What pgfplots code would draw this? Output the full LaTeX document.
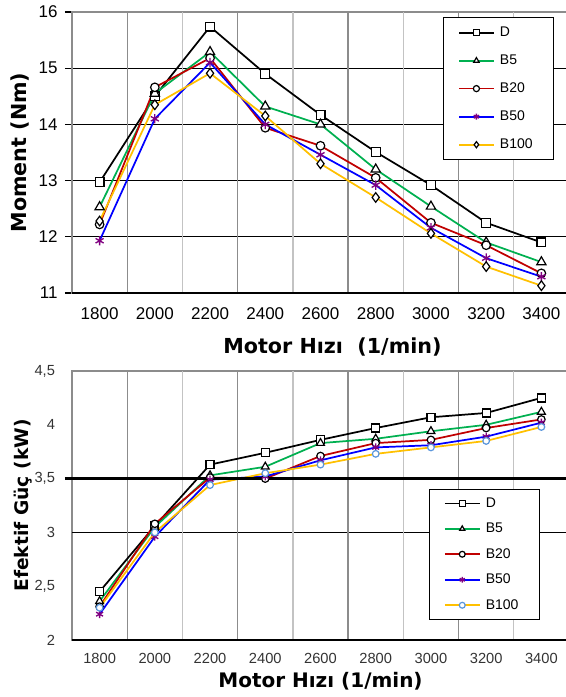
\documentclass[border=0pt]{standalone}
\usepackage{pgfplots}
\pgfplotsset{compat=1.18}
\usepackage{fontspec}
\setmainfont{Liberation Sans}
\newfontfamily\vfont{DejaVu Sans}

\definecolor{cB5}{RGB}{0,176,80}
\definecolor{cB20}{RGB}{192,0,0}
\definecolor{cB50}{RGB}{0,0,255}
\definecolor{cB100}{RGB}{255,192,0}
\definecolor{cStar}{RGB}{128,0,128}
\definecolor{cLb}{RGB}{90,150,220}
\definecolor{gdark}{RGB}{140,140,140}
\definecolor{glight}{RGB}{195,195,195}

\newcommand{\lent}[1]{\makebox[29pt][l]{\hspace{2pt}#1}}

\pgfplotsset{
  base/.style={
    scale only axis, width=372.75pt,
    xmin=1700, xmax=3500,
    xtick={1800,2000,...,3400},
    x tick style={draw=none},
    axis line style={gdark, line width=1.4pt},
    tick align=outside, major tick length=5.25pt,
    /pgf/number format/assume math mode=true,
    legend cell align=left,
    legend image code/.code={\draw[mark repeat=2,mark phase=2,##1]
      plot coordinates {(0pt,0pt) (13pt,0pt) (26pt,0pt)};},
    clip=false,
    every axis plot/.append style={line width=1.3pt},
  },
  sD/.style={black, mark=square*, mark size=3.3pt, mark options={fill=white, draw=black, line width=0.9pt}},
  sB5/.style={cB5, mark=triangle*, mark size=4pt, mark options={fill=white, draw=black, line width=0.9pt}},
  sB20/.style={cB20, mark=*, mark size=3.2pt, mark options={fill=white, draw=black, line width=0.9pt}},
  sB50/.style={cB50, mark=asterisk, mark size=3.5pt, mark options={draw=cStar, line width=1pt}},
}

\begin{document}
\begin{tikzpicture}
\path[use as bounding box] (-54pt,-303pt) rectangle (369.75pt,219.75pt);

% upper chart: torque
\begin{axis}[base,
  at={(0,0)}, anchor=south west,
  height=210.75pt,
  ymin=11, ymax=16, ytick={11,12,...,16},
  /pgf/number format/1000 sep={},
  ymajorgrids, major grid style={black, line width=0.8pt},
  y tick style={black, line width=0.8pt},
  ticklabel style={font=\fontsize{12.75}{14}\selectfont},
  xticklabel style={yshift=-2pt},
  yticklabel style={xshift=-2pt},
  xlabel={\vfont\bfseries\fontsize{15.5}{17}\selectfont Motor Hızı\ \ (1/min)},
  xlabel style={at={(axis description cs:0.524,-0.192)}, anchor=center},
  ylabel={\vfont\bfseries\fontsize{15.5}{17}\selectfont Moment (Nm)},
  ylabel style={at={(axis description cs:-0.1046,0.5)}, anchor=center, rotate=0},
  legend style={at={(0.7465,0.982)}, anchor=north west, draw=black, line width=0.8pt,
    font=\fontsize{10.5}{12}\selectfont, row sep=8.2pt, inner xsep=11pt, inner ysep=5pt},
  every legend image post/.style={mark size=2.3pt},
]
\pgfplotsinvokeforeach{1900,2300,2700,3100}{\draw[gdark, line width=1pt] (axis cs:#1,11) -- (axis cs:#1,16);}
\pgfplotsinvokeforeach{2100,2500,2900,3300}{\draw[glight, line width=1pt] (axis cs:#1,11) -- (axis cs:#1,16);}
\addplot[sD] coordinates {(1800,12.97)(2000,14.50)(2200,15.74)(2400,14.90)(2600,14.17)(2800,13.51)(3000,12.92)(3200,12.25)(3400,11.90)};
\addlegendentry{\lent{D}}
\addplot[sB5] coordinates {(1800,12.53)(2000,14.55)(2200,15.29)(2400,14.32)(2600,14.00)(2800,13.20)(3000,12.54)(3200,11.90)(3400,11.55)};
\addlegendentry{\lent{B5}}
\addplot[sB20] coordinates {(1800,12.22)(2000,14.66)(2200,15.18)(2400,13.94)(2600,13.62)(2800,13.05)(3000,12.25)(3200,11.85)(3400,11.35)};
\addlegendentry{\lent{B20}}
\addplot[sB50] coordinates {(1800,11.93)(2000,14.10)(2200,15.10)(2400,14.00)(2600,13.46)(2800,12.92)(3000,12.16)(3200,11.62)(3400,11.29)};
\addlegendentry{\lent{B50}}
\addplot[cB100, mark=diamond*, mark size=3.6pt, mark options={fill=white, draw=black, line width=0.9pt}]
  coordinates {(1800,12.28)(2000,14.35)(2200,14.91)(2400,14.15)(2600,13.30)(2800,12.70)(3000,12.06)(3200,11.47)(3400,11.13)};
\addlegendentry{\lent{B100}}
\draw[black, line width=1.6pt] (axis cs:1700,11) -- (axis cs:3500,11);
\end{axis}

% lower chart: effective power
\begin{axis}[base,
  at={(0,-58.5pt)}, anchor=north west,
  height=201.75pt,
  ymin=2, ymax=4.5, ytick={2,2.5,...,4.5},
  /pgf/number format/use comma,
  /pgf/number format/1000 sep={},
  y tick style={draw=none},
  extra y ticks={2,3,3.5}, extra y tick labels={},
  extra y tick style={grid=major, major grid style={black, line width=0.8pt}, tick style={draw=black, line width=0.8pt}},
  ticklabel style={font=\fontsize{11}{13}\selectfont, text=black!80},
  xticklabel style={yshift=-1pt},
  yticklabel style={xshift=-4pt},
  xlabel={\vfont\bfseries\fontsize{15}{17}\selectfont Motor Hızı (1/min)},
  xlabel style={at={(axis description cs:0.5,-0.155)}, anchor=center},
  ylabel={\vfont\bfseries\fontsize{14}{16}\selectfont Efektif Güç (kW)},
  ylabel style={at={(axis description cs:-0.0986,0.5)}, anchor=center, rotate=0},
  legend style={at={(0.718,0.561)}, anchor=north west, draw=black, line width=0.8pt,
    font=\fontsize{10.5}{12}\selectfont, row sep=6.3pt, inner xsep=11pt, inner ysep=4pt},
  every legend image post/.style={mark size=2.2pt},
]
\pgfplotsinvokeforeach{1900,2300,2700,3100}{\draw[gdark, line width=1pt] (axis cs:#1,2) -- (axis cs:#1,4.5);}
\pgfplotsinvokeforeach{2100,2500,2900,3300}{\draw[glight, line width=1pt] (axis cs:#1,2) -- (axis cs:#1,4.5);}
\addplot[sD, mark size=3pt] coordinates {(1800,2.45)(2000,3.06)(2200,3.63)(2400,3.74)(2600,3.86)(2800,3.97)(3000,4.07)(3200,4.11)(3400,4.25)};
\addlegendentry{\lent{D}}
\addplot[sB5, mark size=3.4pt] coordinates {(1800,2.36)(2000,3.05)(2200,3.53)(2400,3.61)(2600,3.83)(2800,3.87)(3000,3.94)(3200,4.00)(3400,4.12)};
\addlegendentry{\lent{B5}}
\addplot[sB20, mark size=2.8pt] coordinates {(1800,2.31)(2000,3.08)(2200,3.51)(2400,3.50)(2600,3.71)(2800,3.83)(3000,3.86)(3200,3.97)(3400,4.05)};
\addlegendentry{\lent{B20}}
\addplot[sB50, mark size=3pt] coordinates {(1800,2.24)(2000,2.96)(2200,3.49)(2400,3.52)(2600,3.67)(2800,3.79)(3000,3.81)(3200,3.89)(3400,4.02)};
\addlegendentry{\lent{B50}}
\addplot[cB100, mark=*, mark size=2.5pt, mark options={fill=white, draw=cLb, line width=0.9pt}]
  coordinates {(1800,2.30)(2000,3.00)(2200,3.44)(2400,3.55)(2600,3.63)(2800,3.73)(3000,3.79)(3200,3.85)(3400,3.98)};
\addlegendentry{\lent{B100}}
\draw[black, line width=1.8pt] ([xshift=-5.25pt]axis cs:1700,3.5) -- (axis cs:3500,3.5);
\draw[black, line width=1.4pt] (axis cs:1700,2) -- (axis cs:3500,2);
\end{axis}
\end{tikzpicture}
\end{document}
